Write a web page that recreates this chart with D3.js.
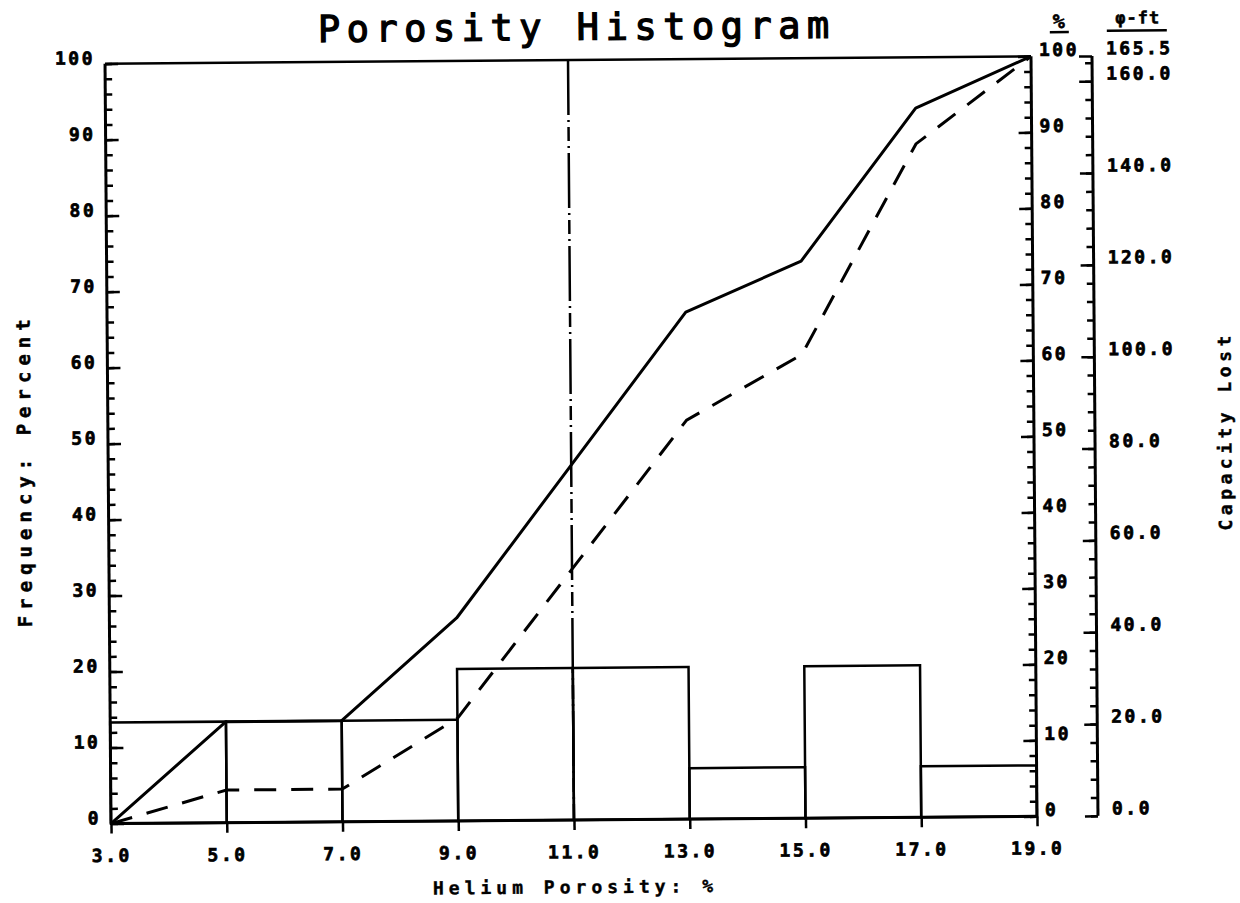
<!DOCTYPE html>
<html>
<head>
<meta charset="utf-8">
<script src="https://cdn.jsdelivr.net/npm/d3@7"></script>
<style>
html, body { margin: 0; padding: 0; background: #fff; }
svg { display: block; }
</style>
</head>
<body>
<script>
// ---------------- data ----------------
const binEdges = [3, 5, 7, 9, 11, 13, 15, 17, 19];
const xTickLabels = ["3.0", "5.0", "7.0", "9.0", "11.0", "13.0", "15.0", "17.0", "19.0"];
const binFreq = [13.3, 13.3, 13.3, 20, 20, 6.7, 20, 6.7];           // histogram, %
const cumFrequency = [0, 13.3, 13.3, 26.7, 46.7, 66.7, 73.3, 93.3, 100]; // solid curve, %
const capacityLost = [0, 4.3, 4.3, 13.5, 33, 52.5, 61, 88.6, 100];  // dashed curve, %
const cutoffPorosity = 11;
const pctMajorTicks = [0, 10, 20, 30, 40, 50, 60, 70, 80, 90, 100];
const capMajorTicks = [0, 20, 40, 60, 80, 100, 120, 140, 160, 165.5];
const capTotal = 165.5;

// ---------------- layout ----------------
const W = 1240, H = 903;
const L = 108, R = 1034, T = 60, B = 820, CAPX = 1095;
const tickFont = "'DejaVu Sans Mono', monospace";

const svg = d3.select("body").append("svg").attr("width", W).attr("height", H);
svg.append("rect").attr("width", W).attr("height", H).attr("fill", "#fff");
const g = svg.append("g").attr("transform", "rotate(-0.45,570,440)");

const x = d3.scaleLinear().domain([3, 19]).range([L, R]);
const y = d3.scaleLinear().domain([0, 100]).range([B, T]);
const yCap = d3.scaleLinear().domain([0, capTotal]).range([B, T]);

// ---------------- histogram ----------------
g.append("g").selectAll("rect").data(binFreq).join("rect")
  .attr("x", (d, i) => x(binEdges[i]))
  .attr("width", (d, i) => x(binEdges[i + 1]) - x(binEdges[i]))
  .attr("y", d => y(d))
  .attr("height", d => y(0) - y(d))
  .attr("fill", "none").attr("stroke", "#000").attr("stroke-width", 2.5);

// ---------------- curves ----------------
const line = d3.line().x((d, i) => x(binEdges[i])).y(d => y(d));
g.append("path").datum(cumFrequency).attr("d", line)
  .attr("fill", "none").attr("stroke", "#000").attr("stroke-width", 3).attr("stroke-linejoin", "round");
g.append("path").datum(capacityLost).attr("d", line)
  .attr("fill", "none").attr("stroke", "#000").attr("stroke-width", 3)
  .attr("stroke-dasharray", "22,15");

// cutoff line
g.append("line")
  .attr("x1", x(cutoffPorosity)).attr("x2", x(cutoffPorosity))
  .attr("y1", y(100)).attr("y2", y(0))
  .attr("stroke", "#000").attr("stroke-width", 2.5)
  .attr("stroke-dasharray", "55,5,2,5,14,5,2,5");

// ---------------- frame ----------------
const frame = g.append("g").attr("stroke", "#000").attr("stroke-width", 3).attr("fill", "none");
frame.append("line").attr("x1", L).attr("x2", R).attr("y1", T).attr("y2", T).attr("stroke-width", 2.5);
frame.append("line").attr("x1", L).attr("x2", L).attr("y1", T).attr("y2", B);
frame.append("line").attr("x1", L).attr("x2", R).attr("y1", B).attr("y2", B);
frame.append("line").attr("x1", R).attr("x2", R).attr("y1", T).attr("y2", B);
frame.append("line").attr("x1", CAPX).attr("x2", CAPX).attr("y1", yCap(capTotal)).attr("y2", yCap(0));

function styleAxis(sel) {
  sel.select(".domain").remove();
  sel.selectAll("line").attr("stroke", "#000").attr("stroke-width", 2.5);
  sel.selectAll("text").attr("fill", "#000").attr("stroke", "#000").attr("stroke-width", 0.7)
    .style("font-family", tickFont).style("font-weight", "bold")
    .style("font-size", "18px").style("letter-spacing", "2.5px");
}

// left axis (ticks inward)
g.append("g").attr("transform", `translate(${L},0)`)
  .call(d3.axisRight(y).tickValues(d3.range(0, 101, 2)).tickSize(7).tickFormat(""))
  .call(styleAxis);
g.append("g").attr("transform", `translate(${L},0)`)
  .call(d3.axisRight(y).tickValues(pctMajorTicks).tickSize(13).tickFormat(d3.format("d")))
  .call(styleAxis)
  .call(s => s.selectAll("text").attr("x", -10).attr("y", -6).attr("dy", "0.35em").attr("text-anchor", "end"));

// bottom axis
g.append("g").attr("transform", `translate(0,${B})`)
  .call(d3.axisBottom(x).tickValues(binEdges).tickSize(10).tickFormat((d, i) => xTickLabels[i]))
  .call(styleAxis)
  .call(s => s.selectAll("text").attr("y", 32).attr("dy", "0.35em"));

// right % axis (ticks inward)
g.append("g").attr("transform", `translate(${R},0)`)
  .call(d3.axisLeft(y).tickValues(d3.range(0, 101, 2)).tickSize(7).tickFormat(""))
  .call(styleAxis);
g.append("g").attr("transform", `translate(${R},0)`)
  .call(d3.axisLeft(y).tickValues(pctMajorTicks).tickSize(13).tickFormat(d3.format("d")))
  .call(styleAxis)
  .call(s => s.selectAll("text").attr("x", 8).attr("y", -7).attr("dy", "0.35em").attr("text-anchor", "start"));

// capacity axis
g.append("g").attr("transform", `translate(${CAPX},0)`)
  .call(d3.axisLeft(yCap).tickValues(d3.range(0, 165, 4)).tickSize(7).tickFormat(""))
  .call(styleAxis);
g.append("g").attr("transform", `translate(${CAPX},0)`)
  .call(d3.axisLeft(yCap).tickValues(capMajorTicks).tickSize(13).tickFormat(d3.format(".1f")))
  .call(styleAxis)
  .call(s => s.selectAll("text").attr("x", 14).attr("y", -8).attr("dy", "0.35em").attr("text-anchor", "start"));

// ---------------- texts ----------------
g.append("text").text("Porosity Histogram")
  .attr("x", 580).attr("y", 27).attr("dy", "0.35em").attr("text-anchor", "middle")
  .style("font-family", tickFont).style("font-size", "37px").style("letter-spacing", "6.5px")
  .attr("fill", "#000").attr("stroke", "#000").attr("stroke-width", 1.3);

g.append("text").text("Frequency:  Percent")
  .attr("transform", "translate(24,466) rotate(-90)").attr("text-anchor", "middle").attr("dy", "0.35em")
  .attr("stroke", "#000").attr("stroke-width", 0.5)
  .style("font-family", tickFont).style("font-weight", "bold").style("font-size", "19px").style("letter-spacing", "6px");

g.append("text").text("Capacity Lost")
  .attr("transform", "translate(1225,436) rotate(-90)").attr("text-anchor", "middle").attr("dy", "0.35em")
  .attr("stroke", "#000").attr("stroke-width", 0.4)
  .style("font-family", tickFont).style("font-weight", "bold").style("font-size", "18px").style("letter-spacing", "4.5px");

g.append("text").text("Helium Porosity:  %")
  .attr("x", 572).attr("y", 887).attr("dy", "0.35em").attr("text-anchor", "middle")
  .attr("stroke", "#000").attr("stroke-width", 0.4)
  .style("font-family", tickFont).style("font-weight", "bold").style("font-size", "18px").style("letter-spacing", "5px");

// unit headers
g.append("text").text("%")
  .attr("x", 1062).attr("y", 25).attr("text-anchor", "middle").attr("dy", "0.35em")
  .attr("stroke", "#000").attr("stroke-width", 0.6)
  .style("font-family", tickFont).style("font-weight", "bold").style("font-size", "20px");
g.append("line").attr("x1", 1053).attr("x2", 1072).attr("y1", 36).attr("y2", 36)
  .attr("stroke", "#000").attr("stroke-width", 2.5);
g.append("text").text("\u03C6-ft")
  .attr("x", 1141).attr("y", 22).attr("text-anchor", "middle").attr("dy", "0.35em")
  .attr("stroke", "#000").attr("stroke-width", 0.5)
  .style("font-family", tickFont).style("font-weight", "bold").style("font-size", "17px").style("letter-spacing", "1px");
g.append("line").attr("x1", 1110).attr("x2", 1170).attr("y1", 35).attr("y2", 35)
  .attr("stroke", "#000").attr("stroke-width", 2.5);
</script>
</body>
</html>
